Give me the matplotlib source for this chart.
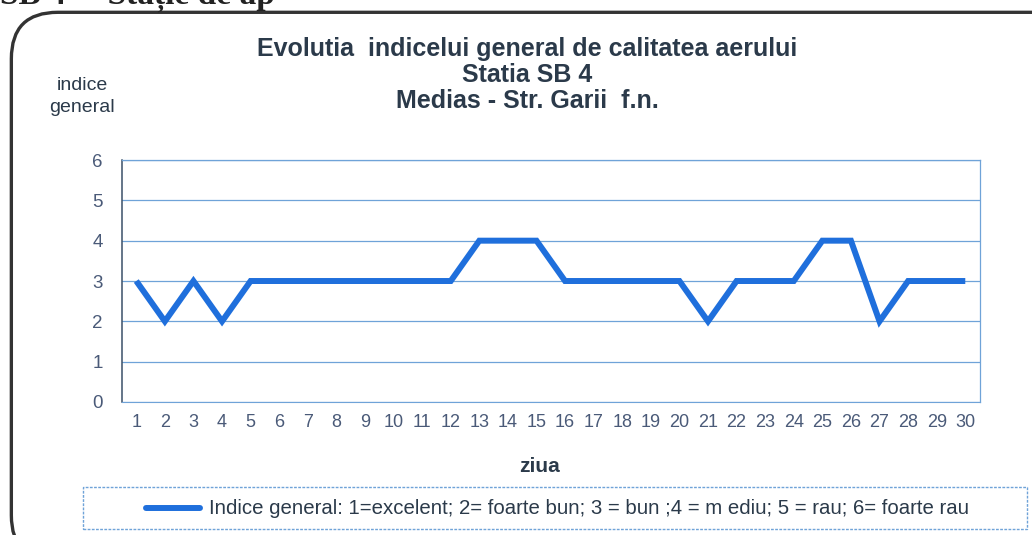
import matplotlib.pyplot as plt
from matplotlib.patches import FancyBboxPatch
from matplotlib.lines import Line2D

days = list(range(1, 31))
indice = [3, 2, 3, 2, 3, 3, 3, 3, 3, 3, 3, 3, 4, 4, 4,
          3, 3, 3, 3, 3, 2, 3, 3, 3, 4, 4, 2, 3, 3, 3]
y_ticks = [0, 1, 2, 3, 4, 5, 6]

title_lines = ["Evolutia  indicelui general de calitatea aerului",
               "Statia SB 4",
               "Medias - Str. Garii  f.n."]
legend_label = "Indice general: 1=excelent; 2= foarte bun; 3 = bun ;4 = m ediu; 5 = rau; 6= foarte rau"

plt.rcParams['font.family'] = ['Liberation Sans', 'DejaVu Sans']
txt = '#2b3a4a'
tick_col = '#4a5a78'
line_col = '#1f6fdc'
grid_col = '#6fa3d8'

fig = plt.figure(figsize=(10.32, 5.35), dpi=100)
fig.patch.set_facecolor('white')

# scanned heading, cut by the top edge
fig.text(0.0, 1 - 4 / 535, "SB 4 –  Stație de ap", fontsize=24, family='Liberation Serif',
         fontweight='bold', color='#222222', va='baseline', ha='left')

# rounded outer frame
frame = FancyBboxPatch((0.011, -0.05), 1.05, 1.027, boxstyle="round,pad=0,rounding_size=0.045",
                       transform=fig.transFigure, fill=False, edgecolor='#333333',
                       linewidth=2.4, mutation_aspect=1032 / 535)
fig.patches.append(frame)

ax = fig.add_axes([0.1182, 0.2486, 0.831, 0.4523])
ax.plot(days, indice, color=line_col, linewidth=4.3, solid_joinstyle='miter',
        solid_capstyle='butt')
ax.set_xlim(0.5, 30.5)
ax.set_ylim(0, 6)
ax.set_yticks(y_ticks)
ax.set_xticks(days)
ax.grid(axis='y', color=grid_col, linewidth=0.9)
ax.set_axisbelow(True)
for s in ['top', 'right']:
    ax.spines[s].set_color(grid_col)
    ax.spines[s].set_linewidth(0.9)
ax.spines['bottom'].set_color(grid_col)
ax.spines['left'].set_color('#3b5068')
ax.spines['left'].set_linewidth(1.1)
ax.tick_params(length=0, labelsize=13.5, colors=tick_col)
ax.tick_params(axis='y', pad=14)
ax.tick_params(axis='x', pad=9)
for lab in ax.get_xticklabels():
    lab.set_fontsize(13)

y0 = 1 - 49 / 535
for i, t in enumerate(title_lines):
    fig.text(0.511, y0 - i * 26 / 535, t, fontsize=18, fontweight='bold', color=txt,
             ha='center', va='center')

fig.text(82 / 1032, 1 - 86 / 535, "indice", fontsize=14, color=txt, ha='center', va='center')
fig.text(82 / 1032, 1 - 107 / 535, "general", fontsize=14, color=txt, ha='center', va='center')
fig.text(540 / 1032, 1 - 467 / 535, "ziua", fontsize=15, fontweight='bold', color=txt,
         ha='center', va='center')

# legend box
lbox = FancyBboxPatch((83 / 1032, 1 - 529 / 535), (1027 - 83) / 1032, 42 / 535,
                      boxstyle="square,pad=0", transform=fig.transFigure, fill=False,
                      edgecolor=grid_col, linewidth=1.0, linestyle=(0, (2, 1)))
fig.patches.append(lbox)
fig.lines.append(Line2D([146 / 1032, 200 / 1032], [1 - 508 / 535, 1 - 508 / 535],
                        transform=fig.transFigure, color=line_col, linewidth=4.3,
                        solid_capstyle='round'))
fig.text(209 / 1032, 1 - 508 / 535, legend_label, fontsize=14.7, color=txt,
         ha='left', va='center')

fig.savefig('out.png', dpi=100)
